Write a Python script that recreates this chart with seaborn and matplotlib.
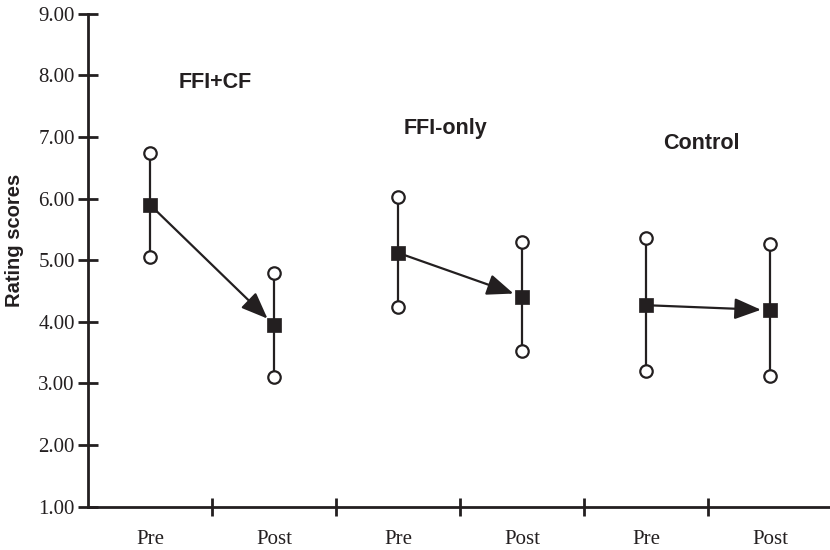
import matplotlib
matplotlib.use("Agg")
import matplotlib.pyplot as plt
import seaborn as sns
import pandas as pd
import numpy as np

# ---- data ----
groups = ["FFI+CF", "FFI-only", "Control"]
phases = ["Pre", "Post"]
means = [5.90, 3.95, 5.12, 4.41, 4.27, 4.19]
upper = [6.74, 4.79, 6.03, 5.30, 5.36, 5.26]
lower = [5.06, 3.11, 4.24, 3.53, 3.21, 3.12]
tick_labels = ["Pre", "Post", "Pre", "Post", "Pre", "Post"]
group_label_pos = [(0.53, 7.88), (2.38, 7.13), (4.45, 6.90)]

INK = "#231f20"

sns.set_style("ticks")
plt.rcParams["font.family"] = ["Liberation Serif", "DejaVu Serif"]

df = pd.DataFrame({
    "x": np.arange(len(means)),
    "mean": means,
    "upper": upper,
    "lower": lower,
    "label": tick_labels,
})

fig = plt.figure(figsize=(8.3, 5.5), dpi=100)
ax = fig.add_axes([88 / 830, 43.3 / 550, 742 / 830, 493 / 550])

# error bars (range lines)
ax.vlines(df["x"], df["lower"], df["upper"], color=INK, lw=1.6, zorder=1)

# open circles at the ends
ends = pd.concat([
    df[["x"]].assign(y=df["upper"]),
    df[["x"]].assign(y=df["lower"]),
])
sns.scatterplot(data=ends, x="x", y="y", marker="o", s=80, facecolor="white",
                edgecolor=INK, linewidth=1.6, ax=ax, zorder=3, legend=False)

# filled squares for means
sns.scatterplot(data=df, x="x", y="mean", marker="s", s=115, color=INK,
                edgecolor=INK, linewidth=0.5, ax=ax, zorder=4, legend=False)

# arrows Pre -> Post
for g in range(len(groups)):
    i0, i1 = 2 * g, 2 * g + 1
    ax.annotate("", xy=(df["x"][i1], df["mean"][i1]),
                xytext=(df["x"][i0], df["mean"][i0]),
                arrowprops=dict(arrowstyle="-|>,head_length=1.25,head_width=0.5",
                                color=INK, lw=1.6, shrinkA=0, shrinkB=6.5,
                                mutation_scale=13),
                zorder=2)

# group labels
for name, (gx, gy) in zip(groups, group_label_pos):
    ax.text(gx, gy, name, ha="center", va="center", fontsize=15.5,
            fontweight="bold", family=["Liberation Sans", "DejaVu Sans"], color=INK)

ax.set_xlim(-0.5, -0.5 + 742 / 124)
ax.set_ylim(1, 9)

yt = np.arange(1, 10)
ax.set_yticks(yt)
ax.set_yticklabels([f"{v:.2f}" for v in yt], fontsize=15, color=INK)

# major ticks at boundaries, labels at centers
ax.set_xticks(np.arange(0.5, 5.5, 1.0))
ax.set_xticklabels([])
ax.set_xticks(df["x"], minor=True)
ax.set_xticklabels(tick_labels, minor=True, fontsize=15, color=INK)
ax.tick_params(axis="x", which="minor", length=0, pad=16.5)
ax.tick_params(axis="x", which="major", direction="inout", length=13, width=2, color=INK)
ax.tick_params(axis="y", direction="inout", length=15, width=2, color=INK, pad=2)

for side in ["top", "right"]:
    ax.spines[side].set_visible(False)
for side in ["left", "bottom"]:
    ax.spines[side].set_linewidth(2)
    ax.spines[side].set_color(INK)

ax.set_xlabel("")
ax.set_ylabel("Rating scores", fontsize=14.5, fontweight="bold",
              family=["Liberation Sans", "DejaVu Sans"], color=INK)
ax.yaxis.set_label_coords(-0.086, 0.541)

fig.savefig("out.png", dpi=100)
